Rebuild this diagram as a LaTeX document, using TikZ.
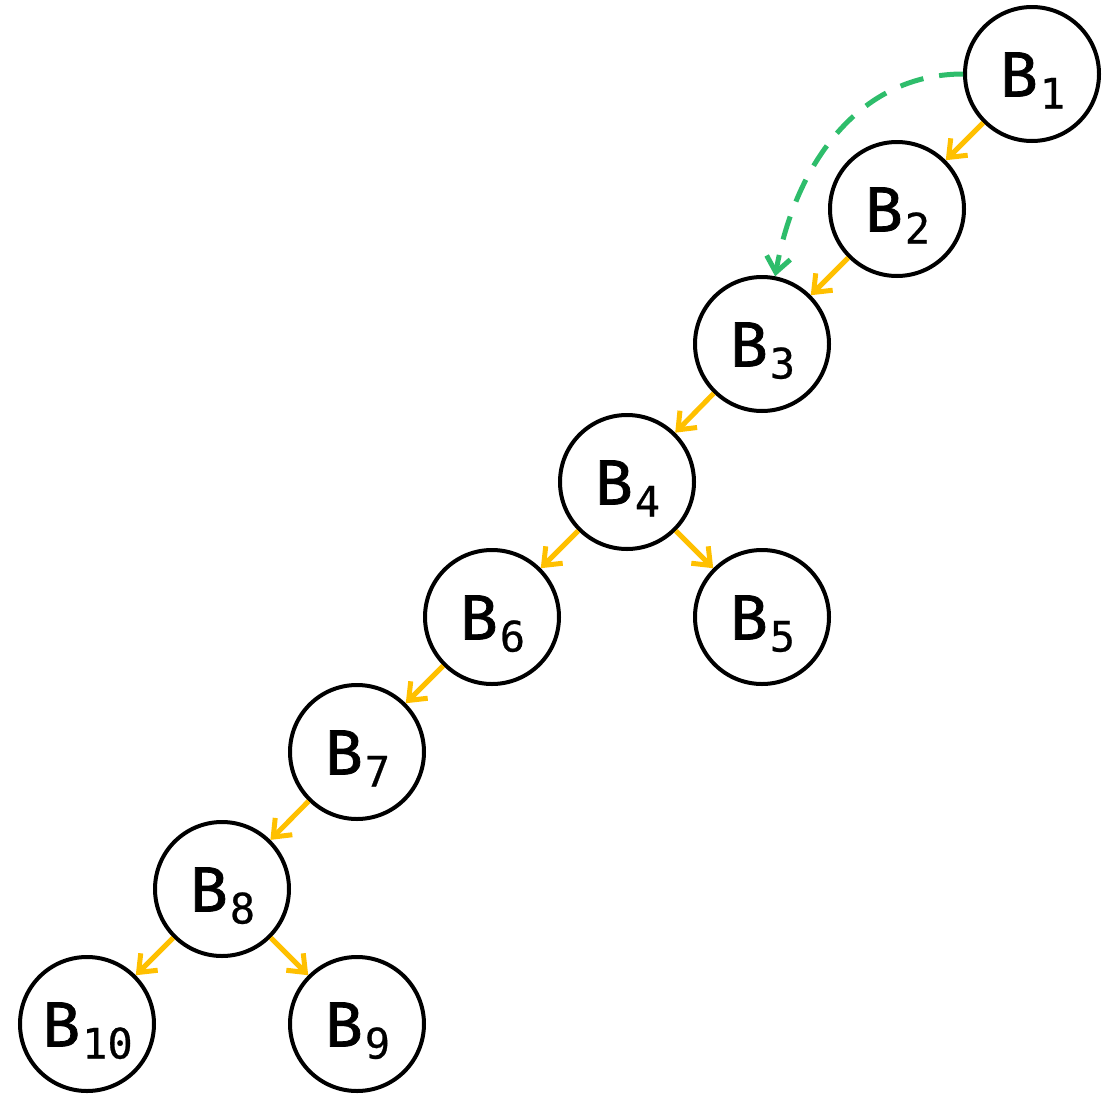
\documentclass[tikz,border=0pt]{standalone}
\usepackage{fontspec}
\setmainfont{Fira Sans}
\newfontfamily\letterfont{Fira Sans}[FakeBold=1.2]
\newfontfamily\indexfont{DejaVu Sans Mono}[FakeBold=0.6]
\usetikzlibrary{arrows.meta}
\definecolor{edgeorange}{HTML}{FFC000}
\definecolor{jumpgreen}{HTML}{2EBD6B}
% block label: capital B with a lowered index, box height fixed to the cap height
\newcommand{\blk}[1]{\raisebox{0pt}[45pt][0pt]{\letterfont\fontsize{64}{64}\selectfont B\kern2pt\raisebox{-12pt}{\indexfont\fontsize{42}{42}\selectfont #1}}}
\begin{document}
\begin{tikzpicture}[x=1pt,y=-1pt,
  block/.style={circle,draw=black,line width=4pt,minimum size=134pt,inner sep=0pt,fill=white},
  tip/.style={-{Straight Barb[length=15pt,width=24pt]}},
  flow/.style={draw=edgeorange,line width=5pt,tip},
  jump/.style={draw=jumpgreen,line width=5pt,dash pattern=on 24pt off 16pt,tip}]
\useasboundingbox (0,0) rectangle (1117,1095);
\node[block] (b1) at (1032,74) {\blk{1}};
\node[block] (b2) at (897,209) {\blk{2}};
\node[block] (b3) at (762,344) {\blk{3}};
\node[block] (b4) at (627,482) {\blk{4}};
\node[block] (b5) at (762,617) {\blk{5}};
\node[block] (b6) at (492,617) {\blk{6}};
\node[block] (b7) at (357,752) {\blk{7}};
\node[block] (b8) at (222,889) {\blk{8}};
\node[block] (b9) at (357,1024) {\blk{9}};
\node[block] (b10) at (87,1024) {\blk{10}};
\draw[flow] (b1) -- (b2);
\draw[flow] (b2) -- (b3);
\draw[flow] (b3) -- (b4);
\draw[flow] (b4) -- (b6);
\draw[flow] (b4) -- (b5);
\draw[flow] (b6) -- (b7);
\draw[flow] (b7) -- (b8);
\draw[flow] (b8) -- (b10);
\draw[flow] (b8) -- (b9);
\draw[jump] (b1.west) to[out=180,in=80,looseness=1] (b3.79);
\end{tikzpicture}
\end{document}
